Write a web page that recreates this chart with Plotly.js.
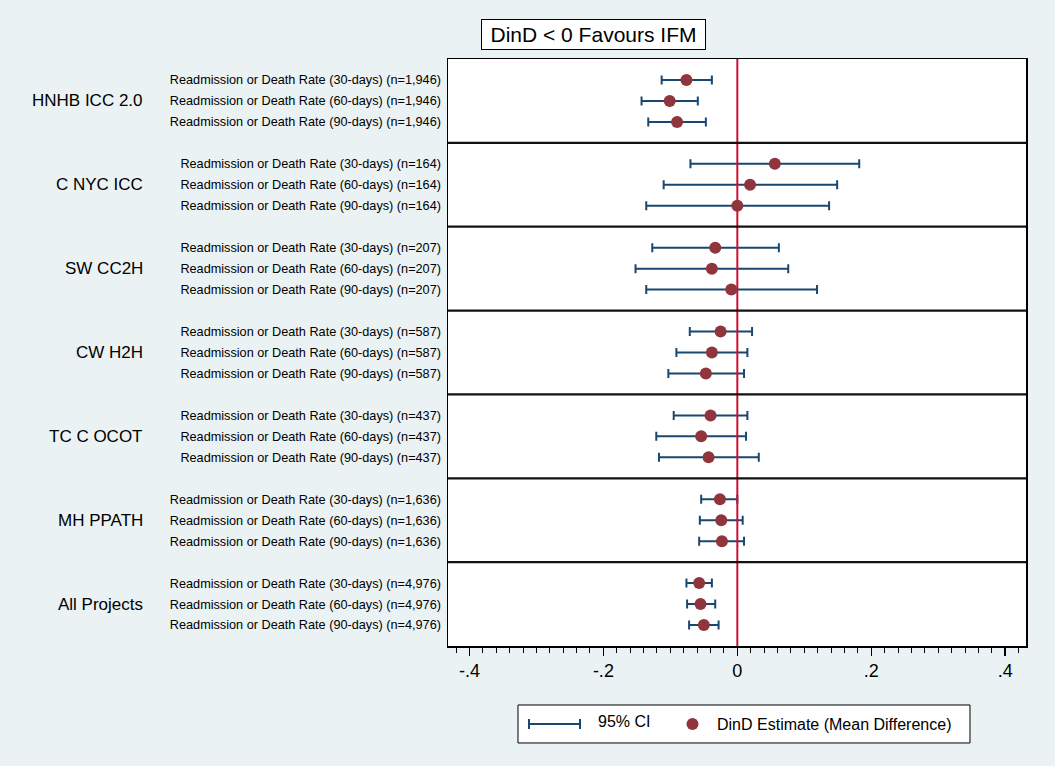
<!DOCTYPE html>
<html>
<head>
<meta charset="utf-8">
<script src="https://cdn.plot.ly/plotly-3.0.1.min.js"></script>
<style>
  html, body { margin: 0; padding: 0; background: #eaf2f3; }
  #chart { width: 1055px; height: 766px; }
</style>
</head>
<body>
<div id="chart"></div>
<script>
// ---- Data ----
const groups = ['HNHB ICC 2.0', 'C NYC ICC', 'SW CC2H', 'CW H2H', 'TC C OCOT', 'MH PPATH', 'All Projects'];
const groupN = ['1,946', '164', '207', '587', '437', '1,636', '4,976'];
const periods = ['30', '60', '90'];
const estimate = [
  -0.076, -0.101, -0.090,
   0.056,  0.019,  0.000,
  -0.033, -0.038, -0.009,
  -0.025, -0.038, -0.047,
  -0.040, -0.054, -0.043,
  -0.026, -0.024, -0.023,
  -0.057, -0.055, -0.050
];
const ciLow = [
  -0.113, -0.143, -0.133,
  -0.070, -0.110, -0.136,
  -0.127, -0.152, -0.136,
  -0.071, -0.091, -0.103,
  -0.095, -0.121, -0.117,
  -0.054, -0.056, -0.057,
  -0.076, -0.075, -0.072
];
const ciHigh = [
  -0.038, -0.059, -0.047,
   0.182,  0.149,  0.137,
   0.062,  0.076,  0.119,
   0.022,  0.015,  0.010,
   0.015,  0.013,  0.032,
   0.000,  0.008,  0.010,
  -0.038, -0.033, -0.028
];
const xTickVals = [-0.4, -0.2, 0, 0.2, 0.4];
const xTickText = ['-.4', '-.2', '0', '.2', '.4'];
const titleText = 'DinD < 0 Favours IFM';
const legendCI = '95% CI';
const legendEst = 'DinD Estimate (Mean Difference)';

// ---- Build rows ----
const rowY = [], rowLabel = [];
groups.forEach((g, gi) => {
  periods.forEach((p, pi) => {
    rowY.push(gi * 4 + pi + 1);
    rowLabel.push('Readmission or Death Rate (' + p + '-days) (n=' + groupN[gi] + ')');
  });
});
const errPlus = estimate.map((e, i) => ciHigh[i] - e);
const errMinus = estimate.map((e, i) => e - ciLow[i]);

const FONT = '"Liberation Sans", Arial, Helvetica, sans-serif';
const NAVY = '#1a476f';
const MAROON = '#90353b';
const RED = '#cc0f35';

const ciTrace = {
  type: 'scatter', mode: 'markers',
  x: estimate, y: rowY,
  marker: { size: 1, opacity: 0 },
  error_x: { type: 'data', symmetric: false, array: errPlus, arrayminus: errMinus,
             color: NAVY, thickness: 2, width: 4.5 },
  showlegend: false, hoverinfo: 'skip'
};
const zeroTrace = {
  type: 'scatter', mode: 'lines',
  x: [0, 0], y: [0, groups.length * 4],
  line: { color: RED, width: 2 },
  showlegend: false, hoverinfo: 'skip'
};
const estTrace = {
  type: 'scatter', mode: 'markers',
  x: estimate, y: rowY,
  marker: { size: 12, color: MAROON, line: { width: 0 } },
  showlegend: false
};

// ---- Shapes ----
const shapes = [];
for (let gi = 1; gi < groups.length; gi++) {
  shapes.push({ type: 'line', xref: 'paper', yref: 'y', x0: 0, x1: 1, y0: gi * 4, y1: gi * 4,
                line: { color: '#111', width: 2.2 }, layer: 'above' });
}
// legend box (paper coords)
const L = { x0: 0.1211, x1: 0.9031, y0: -0.1652, y1: -0.1005 };
shapes.push({ type: 'rect', xref: 'paper', yref: 'paper', x0: L.x0, x1: L.x1, y0: L.y0, y1: L.y1,
              fillcolor: 'white', line: { color: 'black', width: 1 } });
const ly = -0.1329;
shapes.push({ type: 'line', xref: 'paper', yref: 'paper', x0: 0.1401, x1: 0.2284, y0: ly, y1: ly, line: { color: NAVY, width: 2 } });
shapes.push({ type: 'line', xref: 'paper', yref: 'paper', x0: 0.1401, x1: 0.1401, y0: ly - 0.0085, y1: ly + 0.0085, line: { color: NAVY, width: 2 } });
shapes.push({ type: 'line', xref: 'paper', yref: 'paper', x0: 0.2284, x1: 0.2284, y0: ly - 0.0085, y1: ly + 0.0085, line: { color: NAVY, width: 2 } });
shapes.push({ type: 'circle', xref: 'paper', yref: 'paper', x0: 0.4126, x1: 0.4334, y0: ly - 0.0104, y1: ly + 0.0104,
              fillcolor: MAROON, line: { width: 0 } });

// ---- Annotations ----
const annotations = groups.map((g, gi) => ({
  text: g, xref: 'paper', yref: 'y', x: -0.524, y: gi * 4 + 2,
  xanchor: 'right', yanchor: 'middle', showarrow: false,
  font: { family: FONT, size: 17, color: 'black' }
}));
annotations.push({
  text: titleText, xref: 'paper', yref: 'paper', x: 0.2517, y: 1.0417,
  xanchor: 'center', yanchor: 'middle', showarrow: false,
  bgcolor: 'white', bordercolor: 'black', borderwidth: 1, borderpad: 3,
  width: 217, height: 23,
  font: { family: FONT, size: 21, color: 'black' }
});
annotations.push({
  text: legendCI, xref: 'paper', yref: 'paper', x: 0.2561, y: ly + 0.004,
  xanchor: 'left', yanchor: 'middle', showarrow: false,
  font: { family: FONT, size: 16, color: 'black' }
});
annotations.push({
  text: legendEst, xref: 'paper', yref: 'paper', x: 0.4619, y: ly,
  xanchor: 'left', yanchor: 'middle', showarrow: false,
  font: { family: FONT, size: 16, color: 'black' }
});

const layout = {
  width: 1055, height: 766,
  margin: { l: 448, r: 29, t: 59, b: 120, pad: 0 },
  paper_bgcolor: '#eaf2f3', plot_bgcolor: 'white',
  font: { family: FONT, color: 'black' },
  showlegend: false,
  xaxis: {
    range: [-0.432, 0.431], autorange: false,
    tickmode: 'array', tickvals: xTickVals, ticktext: xTickText,
    ticks: 'outside', ticklen: 8, tickwidth: 1.5, tickcolor: 'black',
    minor: { tickmode: 'linear', tick0: 0, dtick: 0.02, ticks: 'outside', ticklen: 5, tickwidth: 1, tickcolor: 'black', showgrid: false },
    showgrid: false, zeroline: false,
    showline: true, mirror: true, linecolor: 'black', linewidth: 1.5,
    tickfont: { family: FONT, size: 18, color: 'black' }
  },
  yaxis: {
    range: [groups.length * 4, 0], autorange: false,
    tickmode: 'array', tickvals: rowY, ticktext: rowLabel,
    ticks: '', showgrid: false, zeroline: false,
    showline: true, mirror: true, linecolor: 'black', linewidth: 1.5,
    ticklabelstandoff: 3,
    tickfont: { family: FONT, size: 12.7, color: 'black' }
  },
  shapes: shapes,
  annotations: annotations
};

Plotly.newPlot('chart', [ciTrace, zeroTrace, estTrace], layout, { displayModeBar: false, staticPlot: true });
</script>
</body>
</html>
